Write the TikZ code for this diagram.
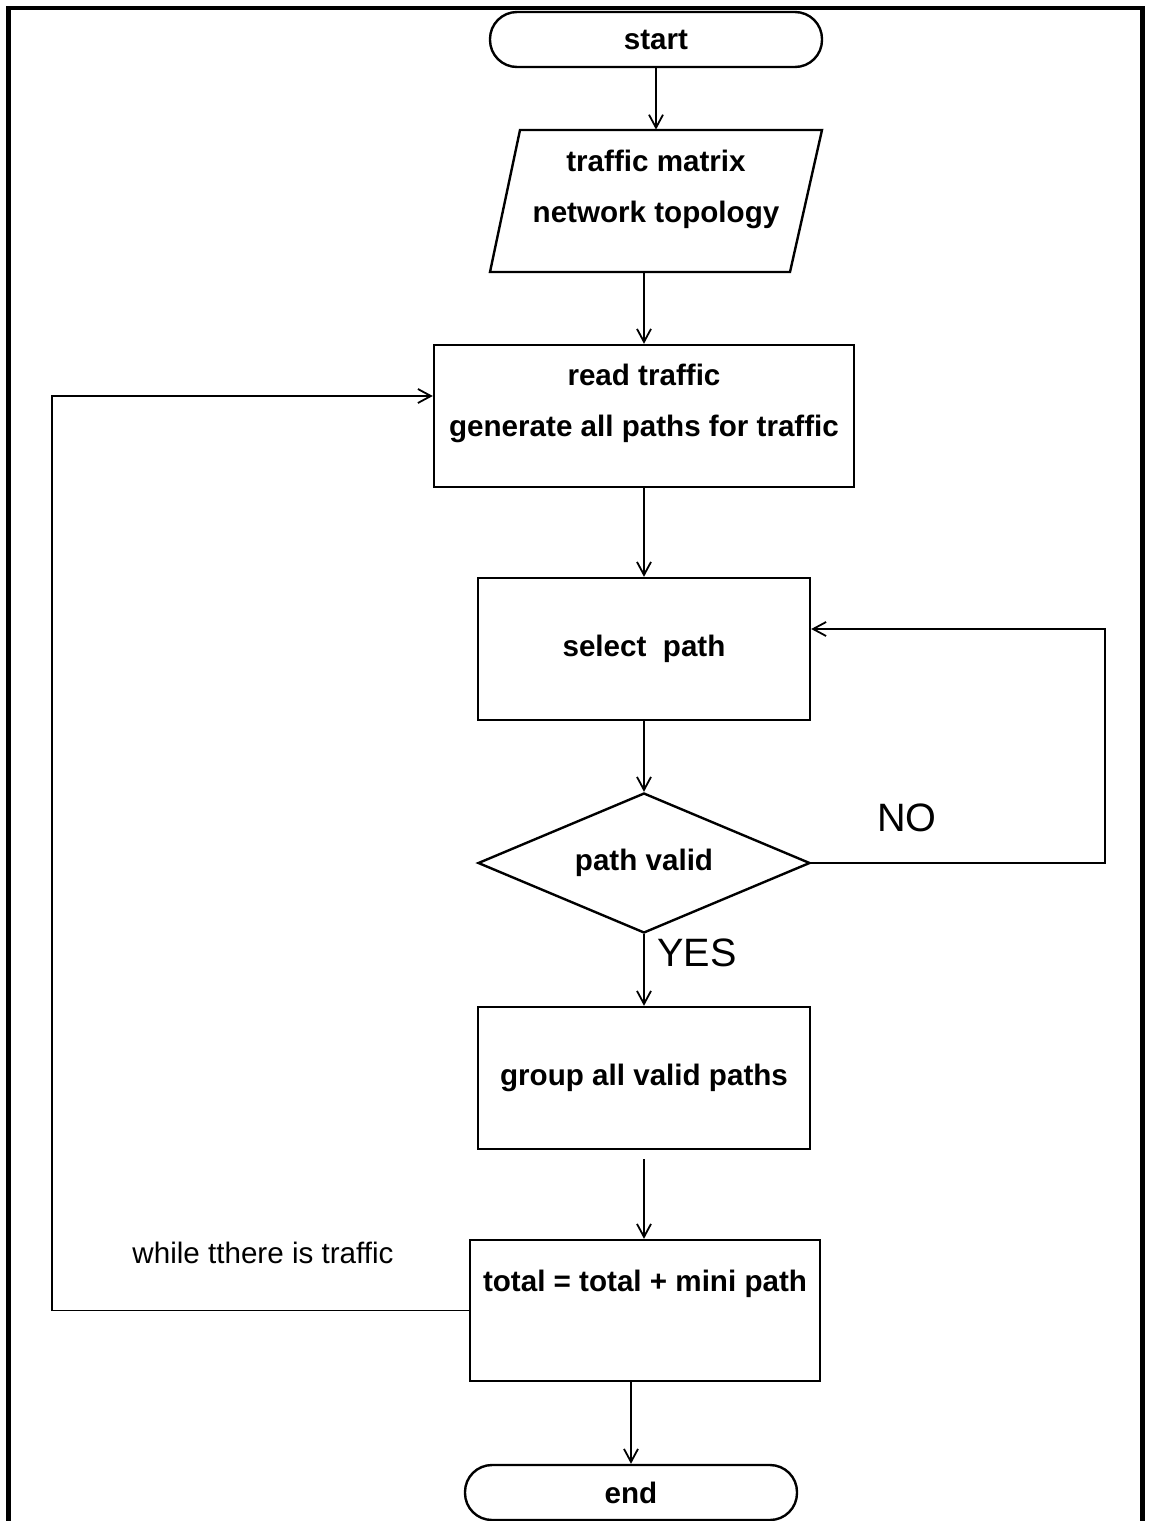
\documentclass[tikz,border=0pt]{standalone}
\usepackage{fontspec}
\setmainfont{Liberation Sans}
\usetikzlibrary{arrows.meta,shapes.geometric}

\begin{document}
\begin{tikzpicture}[x=0.5pt,y=-0.5pt,
  outline/.style={line width=1.2pt},
  boxfont/.style={font=\fontsize{14.8}{25.5}\selectfont\bfseries},
  stepbox/.style={draw, outline, rectangle, minimum width=#1, minimum height=71pt,
    inner sep=0pt, boxfont},
  term/.style={draw, outline, rectangle, rounded corners=13.5pt, minimum width=166pt,
    minimum height=27.5pt, inner sep=0pt, boxfont},
  decision/.style={draw, outline, diamond, aspect=2.37, minimum width=166pt,
    minimum height=70pt, inner sep=0pt, boxfont},
  txt/.style={align=center, inner sep=0pt, boxfont},
  lbl/.style={inner sep=0pt, font=\fontsize{14.8}{18}\selectfont},
  biglbl/.style={inner sep=0pt, font=\fontsize{19.8}{24}\selectfont},
  arr/.style={-{Straight Barb[length=6.5pt,width=7pt]}, line width=0.9pt},
]
\useasboundingbox (0,0) rectangle (1149,1521);

% outer frame (open at the bottom)
\draw[line width=2.2pt] (8.5,1540) -- (8.5,8) -- (1142.5,8) -- (1142.5,1540);

% process steps
\node[term] (start) at (656,39.5) {start};

\node[minimum width=166pt, minimum height=71pt, inner sep=0pt] (inp) at (656,201) {};
\draw[outline] (520,130) -- (822,130) -- (790,272) -- (490,272) -- cycle;
\node[txt] (inptxt) at (656,189.5) {traffic matrix\\network topology};

\node[stepbox=210pt] (read) at (644,416) {};
\node[txt] (readtxt) at (644,403.5) {read traffic\\generate all paths for traffic};

\node[stepbox=166pt] (sel) at (644,649) {select\ \ path};

\node[decision] (valid) at (644,863) {path valid};

\node[stepbox=166pt] (grp) at (644,1078) {group all valid paths};

\node[stepbox=175pt, minimum height=70.5pt] (tot) at (645,1310.5) {};
\node[txt] (tottxt) at (645,1284) {total = total + mini path};

\node[term] (end) at (631,1492.5) {end};

% labels
\node[biglbl] (nolbl) at (907,818) {NO};
\node[biglbl] (yeslbl) at (697,953) {YES};
\node[lbl] (whilelbl) at (263,1253) {while tthere is traffic};

% connectors
\draw[arr] (start.south) -- (start.south |- inp.north);
\draw[arr] (read.north |- inp.south) -- (read.north);
\draw[arr] (read.south) -- (sel.north);
\draw[arr] (sel.south) -- (valid.north);
\draw[arr] (valid.south) -- (grp.north);
\draw[arr, shorten <=4.5pt] (grp.south) -- (grp.south |- tot.north);
\draw[arr] (end.north |- tot.south) -- (end.north);

\coordinate (noR) at (1105,629);
\draw[arr] (valid.east) -- (valid.east -| noR) -- (noR) -- (sel.east |- noR);

\coordinate (loopL) at (52,396);
\draw[arr] (tot.west) -- (tot.west -| loopL) -- (loopL) -- (read.west |- loopL);
\end{tikzpicture}
\end{document}
